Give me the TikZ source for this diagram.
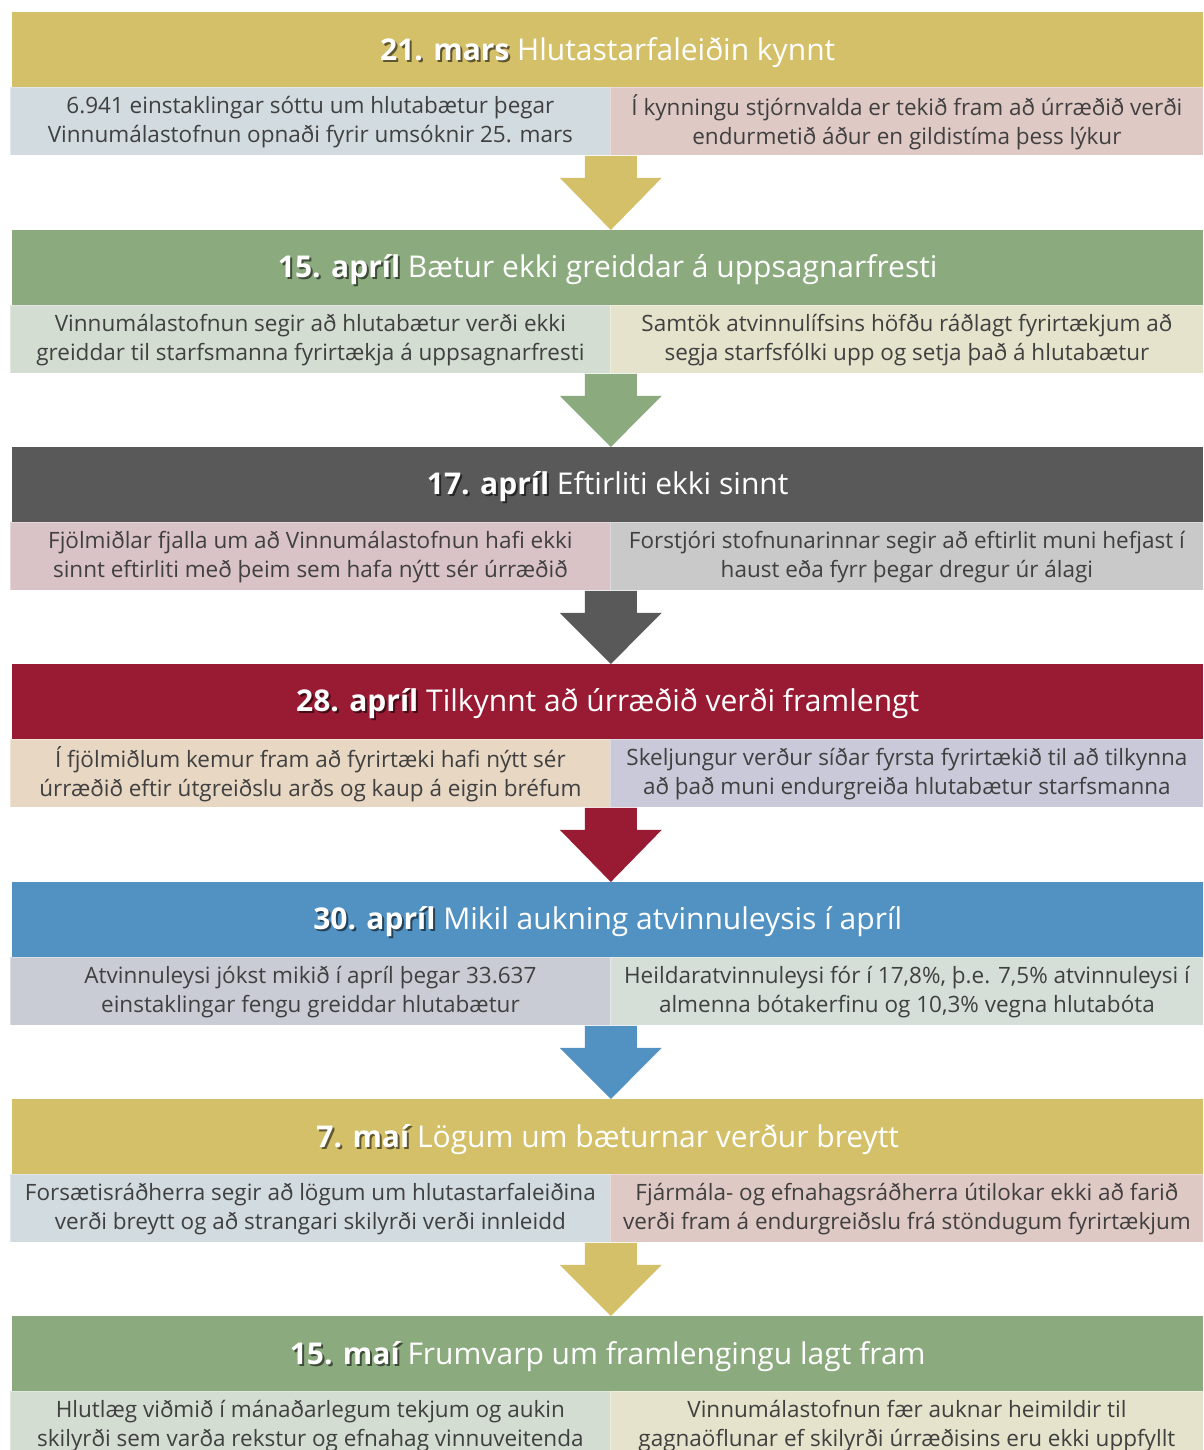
\documentclass[tikz,border=0pt]{standalone}
\usepackage{fontspec}
\setmainfont{Open Sans}
\usetikzlibrary{positioning, calc}

\definecolor{hgold}{HTML}{D5C06A}
\definecolor{hgreen}{HTML}{8BAA7E}
\definecolor{hgray}{HTML}{595959}
\definecolor{hred}{HTML}{991B33}
\definecolor{hblue}{HTML}{5192C3}
\definecolor{sblue}{HTML}{D2DBDF}
\definecolor{spink}{HTML}{DFC9C5}
\definecolor{ssage}{HTML}{D3DDD2}
\definecolor{scream}{HTML}{E6E3CC}
\definecolor{srose}{HTML}{D9C3C6}
\definecolor{sgray}{HTML}{C9C9C9}
\definecolor{sbeige}{HTML}{E7D7C3}
\definecolor{slav}{HTML}{C9C9D9}
\definecolor{ssteel}{HTML}{C9CCD4}
\definecolor{smint}{HTML}{D5DFD8}
\definecolor{subtext}{HTML}{404040}

\begin{document}
\begin{tikzpicture}[x=1pt, y=-1pt,
	header/.style={rectangle, anchor=north west, minimum width=1191pt, minimum height=75pt, inner sep=0pt},
	titletext/.style={inner sep=0pt, yshift=-3pt, text=white, font=\fontsize{30}{36}\selectfont},
	subbox/.style={rectangle, anchor=north west, minimum height=68pt, inner sep=0pt, draw=white, draw opacity=0.35, line width=0.8pt},
	notetext/.style={inner sep=0pt, yshift=-1pt, text=subtext, align=center, font=\fontsize{22.5}{29}\selectfont}]
	
	\useasboundingbox (0,0) rectangle (1203,1450);
	
	%//one row per date: header band, then two notes under it
	\foreach \i/\y/\hc/\lc/\rc/\date/\title/\ltext/\rtext in {
		1/12/hgold/sblue/spink/{21. mars}/{Hlutastarfaleiðin kynnt}/{6.941 einstaklingar sóttu um hlutabætur þegar\\Vinnumálastofnun opnaði fyrir umsóknir 25. mars}/{Í kynningu stjórnvalda er tekið fram að úrræðið verði\\endurmetið áður en gildistíma þess lýkur},
		2/230/hgreen/ssage/scream/{15. apríl}/{Bætur ekki greiddar á uppsagnarfresti}/{Vinnumálastofnun segir að hlutabætur verði ekki\\greiddar til starfsmanna fyrirtækja á uppsagnarfresti}/{Samtök atvinnulífsins höfðu ráðlagt fyrirtækjum að\\segja starfsfólki upp og setja það á hlutabætur},
		3/447/hgray/srose/sgray/{17. apríl}/{Eftirliti ekki sinnt}/{Fjölmiðlar fjalla um að Vinnumálastofnun hafi ekki\\sinnt eftirliti með þeim sem hafa nýtt sér úrræðið}/{Forstjóri stofnunarinnar segir að eftirlit muni hefjast í\\haust eða fyrr þegar dregur úr álagi},
		4/664/hred/sbeige/slav/{28. apríl}/{Tilkynnt að úrræðið verði framlengt}/{Í fjölmiðlum kemur fram að fyrirtæki hafi nýtt sér\\úrræðið eftir útgreiðslu arðs og kaup á eigin bréfum}/{Skeljungur verður síðar fyrsta fyrirtækið til að tilkynna\\að það muni endurgreiða hlutabætur starfsmanna},
		5/882/hblue/ssteel/smint/{30. apríl}/{Mikil aukning atvinnuleysis í apríl}/{Atvinnuleysi jókst mikið í apríl þegar 33.637\\einstaklingar fengu greiddar hlutabætur}/{Heildaratvinnuleysi fór í 17,8\%, þ.e. 7,5\% atvinnuleysi í\\almenna bótakerfinu og 10,3\% vegna hlutabóta},
		6/1099/hgold/sblue/spink/{7. maí}/{Lögum um bæturnar verður breytt}/{Forsætisráðherra segir að lögum um hlutastarfaleiðina\\verði breytt og að strangari skilyrði verði innleidd}/{Fjármála- og efnahagsráðherra útilokar ekki að farið\\verði fram á endurgreiðslu frá stöndugum fyrirtækjum},
		7/1316/hgreen/ssage/scream/{15. maí}/{Frumvarp um framlengingu lagt fram}/{Hlutlæg viðmið í mánaðarlegum tekjum og aukin\\skilyrði sem varða rekstur og efnahag vinnuveitenda}/{Vinnumálastofnun fær auknar heimildir til\\gagnaöflunar ef skilyrði úrræðisins eru ekki uppfyllt}}
	{
		\node[header, fill=\hc, label={[titletext]center:{{\bfseries\rlap{\kern2pt\raisebox{-2pt}{\color{\hc!45!black}\date}}\date} \title}}] (h\i) at (12,\y) {};
		\node[subbox, fill=\lc, minimum width=600pt, label={[notetext]center:{\ltext}}] (l\i) at (10,\y+75) {};
		\node[subbox, fill=\rc, minimum width=593pt, label={[notetext]center:{\rtext}}] (r\i) at (610,\y+75) {};
	}
	
	%//block arrows between the rows
	\foreach \i/\j/\c in {1/2/hgold, 2/3/hgreen, 3/4/hgray, 4/5/hred, 5/6/hblue, 6/7/hgold}
	\fill[\c] ($(l\i.south east)+(-26,0)$) -- ++(0,22) -- ++(-25,0)
		-- (h\j.north -| l\i.south east)
		-- ($(l\i.south east)+(51,22)$) -- ++(-25,0) -- ++(0,-22) -- cycle;
	
\end{tikzpicture}
\end{document}
